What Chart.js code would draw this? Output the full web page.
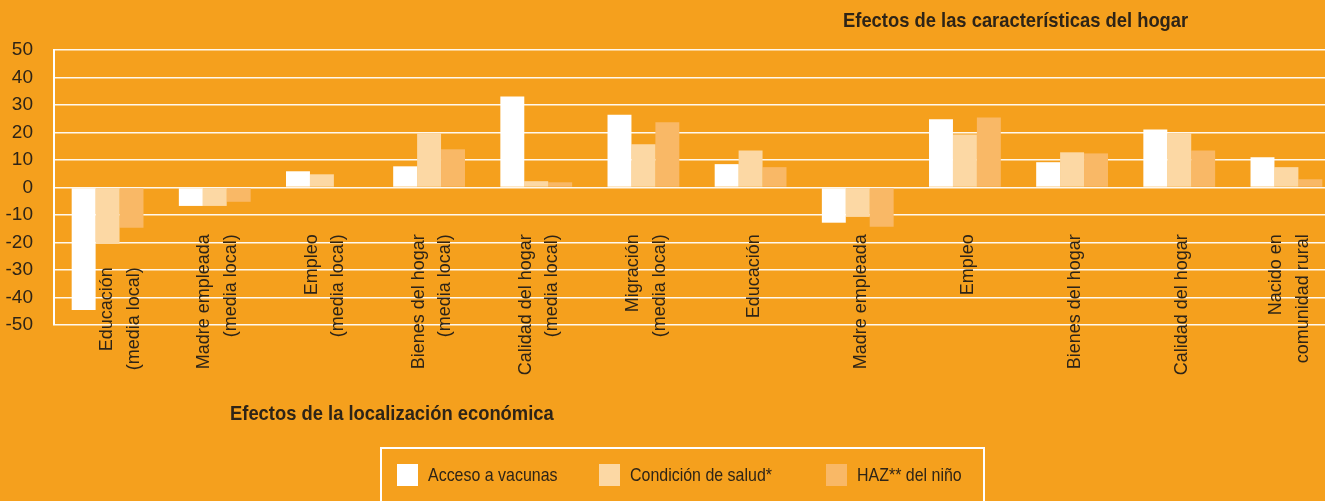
<!DOCTYPE html>
<html>
<head>
<meta charset="utf-8">
<script src="https://cdn.jsdelivr.net/npm/chart.js@4.4.0/dist/chart.umd.min.js"></script>
<style>
  html, body { margin: 0; padding: 0; width: 1325px; height: 501px; overflow: hidden; background: #F5A01D; }
  #wrap { position: absolute; left: 0; top: 0; width: 1340px; height: 501px; }
  .title { position: absolute; font-family: "Liberation Sans", sans-serif; font-weight: bold; font-size: 21px; color: #2e2417;
           white-space: nowrap; transform: scaleX(0.875); transform-origin: left top; }
  #legend { position: absolute; left: 380px; top: 447px; width: 605px; height: 62px; border: 2px solid #fff; box-sizing: border-box;
            font-family: "Liberation Sans", sans-serif; font-size: 19px; color: #2e2417; }
  .item { position: absolute; top: 15px; height: 22px; white-space: nowrap; }
  .sw { position: absolute; left: 0; top: 0; width: 21px; height: 22px; }
  .txt { position: absolute; left: 31px; top: 0; line-height: 22px; transform: scaleX(0.84); transform-origin: left center; }
</style>
</head>
<body>
<div id="wrap"><canvas id="myChart"></canvas></div>
<div class="title" style="left:843px; top:8px;">Efectos de las características del hogar</div>
<div class="title" style="left:230px; top:401px;">Efectos de la localización económica</div>
<div id="legend"></div>
<script>
// categories (x axis)
const categories = [
    ['Educación', '(media local)'],
    ['Madre empleada', '(media local)'],
    ['Empleo', '(media local)'],
    ['Bienes del hogar', '(media local)'],
    ['Calidad del hogar', '(media local)'],
    ['Migración', '(media local)'],
    'Educación',
    'Madre empleada',
    'Empleo',
    'Bienes del hogar',
    'Calidad del hogar',
    ['Nacido en', 'comunidad rural']
];

// series
const seriesNames = ['Acceso a vacunas', 'Condición de salud*', 'HAZ** del niño'];
const vacunas = [-44.5, -6.7, 5.9, 7.7, 33.1, 26.5, 8.5, -12.8, 24.8, 9.2, 21.1, 11.0];
const salud = [-20.5, -6.7, 4.8, 19.7, 2.3, 15.7, 13.5, -10.7, 19.3, 12.8, 19.7, 7.4];
const haz = [-14.6, -5.2, 0, 13.9, 1.9, 23.7, 7.4, -14.3, 25.5, 12.4, 13.5, 3.0];

// y axis ticks
const yMin = -50;
const yMax = 50;
const yStep = 10;

const colors = ['#FFFFFF', '#FCD8A4', '#F9B866'];
const font = '"Liberation Sans", sans-serif';
const textColor = '#2e2417';

// category labels are written inside the plot, top end at y = -17
const labelTop = -17;
const lineGap = 26.5;
const labelShift = { 0: [10, 33] }; // first label sits beside its long bar

const xLabels = {
    id: 'xLabels',
    afterDatasetsDraw: function (chart) {
        const xs = chart.scales.x;
        const ys = chart.scales.y;
        const c = chart.ctx;
        c.save();
        c.font = '18px ' + font;
        c.fillStyle = textColor;
        c.textAlign = 'right';
        c.textBaseline = 'middle';
        categories.forEach(function (label, i) {
            const lines = [].concat(label);
            const shift = labelShift[i] || [0, 0];
            const x = xs.getPixelForValue(i) + 3 + shift[0];
            const y = ys.getPixelForValue(labelTop) + shift[1];
            lines.forEach(function (line, k) {
                c.save();
                c.translate(x + (k - (lines.length - 1) / 2) * lineGap, y);
                c.rotate(-Math.PI / 2);
                c.fillText(line, 0, 0);
                c.restore();
            });
        });
        c.restore();
    }
};

const ctx = document.getElementById('myChart').getContext('2d');
const myChart = new Chart(ctx, {
    type: 'bar',
    data: {
        labels: categories,
        datasets: [vacunas, salud, haz].map(function (values, i) {
            return {
                label: seriesNames[i],
                data: values,
                backgroundColor: colors[i],
                borderWidth: 0,
                barPercentage: 1,
                categoryPercentage: 0.67
            };
        })
    },
    options: {
        responsive: true,
        maintainAspectRatio: false,
        animation: false,
        layout: { padding: { top: 50, bottom: 176, left: 0, right: 0 } },
        plugins: {
            legend: { display: false },
            tooltip: { enabled: false }
        },
        scales: {
            x: {
                grid: { display: false, drawTicks: false },
                border: { display: false },
                ticks: { display: false }
            },
            y: {
                min: yMin,
                max: yMax,
                afterFit: function (scale) { scale.width = 54; },
                grid: { color: 'rgba(255,255,255,0.92)', lineWidth: 1.6, drawTicks: false },
                border: { display: true, color: '#FFFFFF', width: 2 },
                ticks: {
                    stepSize: yStep,
                    padding: 21,
                    color: textColor,
                    font: { family: font, size: 19 }
                }
            }
        }
    },
    plugins: [xLabels]
});

// html legend built from the series
const legend = document.getElementById('legend');
const itemLeft = [15, 217, 444];
seriesNames.forEach(function (name, i) {
    const item = document.createElement('div');
    item.className = 'item';
    item.style.left = itemLeft[i] + 'px';
    item.innerHTML = '<span class="sw" style="background:' + colors[i] + '"></span><span class="txt">' + name + '</span>';
    legend.appendChild(item);
});
</script>
</body>
</html>
